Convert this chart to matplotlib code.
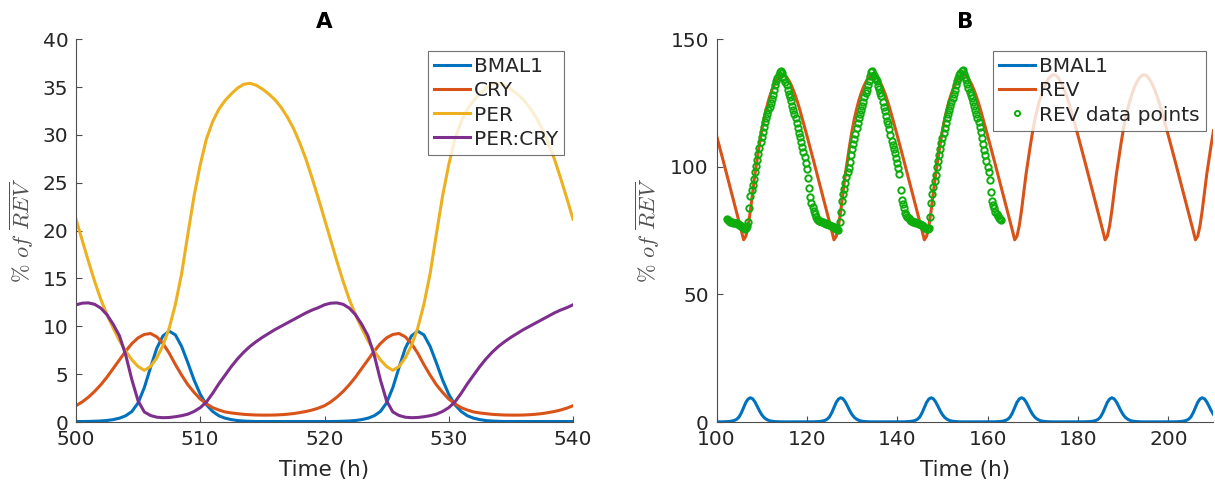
import numpy as np
import matplotlib
matplotlib.use("Agg")
import matplotlib.pyplot as plt

# ---------------- data ----------------
# Panel A: one 20 h period sampled every 0.5 h, t = 500 ... 519.5 (the model output repeats)
bmal1_period = [0.05, 0.05, 0.06, 0.08, 0.11, 0.16, 0.25, 0.4, 0.65, 1.1,
                2.0, 3.6, 5.7, 7.7, 9.0, 9.5, 9.1, 7.9, 6.2, 4.4,
                2.9, 1.8, 1.1, 0.65, 0.4, 0.25, 0.15, 0.1, 0.07, 0.05,
                0.05, 0.05, 0.05, 0.05, 0.05, 0.05, 0.05, 0.05, 0.05, 0.05]
cry_period = [1.7, 2.1, 2.6, 3.2, 3.9, 4.7, 5.6, 6.5, 7.4, 8.2,
              8.8, 9.15, 9.25, 8.9, 8.2, 7.2, 6.0, 4.9, 3.9, 3.1,
              2.4, 1.9, 1.5, 1.25, 1.05, 0.95, 0.87, 0.8, 0.76, 0.73,
              0.72, 0.72, 0.73, 0.76, 0.81, 0.88, 0.98, 1.1, 1.25, 1.45]
per_period = [21.2, 19.0, 16.8, 14.7, 12.8, 11.2, 9.8, 8.5, 7.4, 6.5,
              5.8, 5.4, 5.8, 6.7, 8.0, 9.8, 12.3, 15.5, 19.6, 23.6,
              26.9, 29.6, 31.4, 32.7, 33.6, 34.3, 34.9, 35.3, 35.4, 35.2,
              34.8, 34.3, 33.7, 32.9, 31.9, 30.7, 29.2, 27.5, 25.5, 23.4]
percry_period = [12.25, 12.42, 12.45, 12.3, 11.9, 11.2, 10.2, 9.0, 7.0, 4.4,
                 2.2, 1.05, 0.68, 0.5, 0.45, 0.47, 0.55, 0.66, 0.82, 1.1,
                 1.5, 2.1, 3.0, 4.0, 4.9, 5.8, 6.6, 7.3, 7.9, 8.4,
                 8.85, 9.25, 9.65, 10.0, 10.35, 10.7, 11.05, 11.4, 11.7, 11.95]
# Panel B: REV model, one 20 h period, t = 100 ... 119.5 (BMAL1 shares the period above)
rev_period = [112.3, 109.0, 105.7, 102.3, 98.9, 95.5, 92.1, 88.7, 85.3, 81.9,
              78.5, 75.0, 71.4, 72.8, 76.8, 82.8, 90.0, 97.0, 103.0, 108.8,
              114.2, 118.8, 122.6, 126.0, 128.8, 131.2, 133.1, 134.6, 135.6, 136.1,
              136.0, 135.2, 133.9, 132.2, 130.1, 127.7, 125.0, 122.0, 118.8, 115.6]
# REV data points, every 0.25 h from t = 102.25 to 163.0
rev_data = [
    # 102.25 - 122.0
    79.5, 79.2, 78.8, 78.5, 78.4, 78.3, 78.1, 78.0, 78.0, 77.9,
    77.6, 77.4, 77.2, 77.0, 76.5, 76.0, 75.8, 76.2, 77.0, 78.5,
    84.0, 88.5, 90.8, 93.0, 95.3, 97.8, 100.3, 102.6, 105.0, 107.4,
    109.7, 111.7, 113.7, 115.6, 117.4, 119.0, 120.6, 122.1, 123.6, 125.1,
    126.6, 128.3, 130.1, 132.0, 133.7, 134.8, 135.9, 137.1, 137.6, 136.6,
    135.4, 134.4, 133.4, 131.9, 130.2, 128.6, 127.3, 125.8, 124.0, 122.4,
    120.7, 119.2, 117.2, 115.2, 113.4, 111.8, 109.6, 107.6, 106.0, 104.0,
    101.6, 99.0, 95.8, 91.8, 88.2, 86.0, 84.3, 82.8, 81.4, 80.4,
    # 122.25 - 142.0
    79.7, 79.2, 78.9, 78.6, 78.4, 78.2, 78.0, 77.9, 77.8, 77.7,
    77.5, 77.2, 77.0, 76.8, 76.6, 76.4, 76.1, 75.8, 75.5, 75.4,
    78.5, 82.5, 86.5, 89.2, 91.5, 93.8, 96.2, 98.0, 99.5, 102.0,
    104.8, 107.0, 108.8, 110.8, 113.0, 115.3, 117.2, 119.0, 120.8, 122.4,
    124.0, 125.6, 127.3, 128.8, 130.3, 132.0, 133.8, 135.5, 137.0, 137.5,
    136.0, 135.0, 134.3, 133.5, 131.8, 130.4, 128.8, 127.6, 125.6, 123.6,
    121.8, 120.0, 117.9, 116.7, 114.8, 112.5, 110.2, 108.4, 107.0, 105.6,
    103.6, 101.5, 99.5, 97.4, 91.0, 87.0, 85.3, 83.8, 82.0, 81.2,
    # 142.25 - 163.0
    80.3, 79.8, 79.2, 78.9, 78.6, 78.5, 78.3, 78.2, 78.0, 77.9,
    77.8, 77.5, 77.3, 77.1, 76.8, 76.4, 76.0, 75.7, 75.6, 76.2,
    80.5, 86.0, 89.5, 92.0, 94.5, 97.0, 99.8, 102.3, 104.6, 107.0,
    109.3, 111.4, 113.4, 115.4, 117.3, 119.0, 120.6, 122.2, 123.8, 125.3,
    126.8, 128.4, 130.1, 131.9, 133.6, 134.8, 135.9, 136.8, 137.4, 137.8,
    136.5, 135.2, 134.0, 132.5, 131.0, 129.5, 128.2, 127.0, 125.6, 124.0,
    122.3, 120.6, 119.0, 117.4, 115.5, 113.5, 111.3, 109.0, 106.8, 104.5,
    102.2, 100.0, 98.0, 95.0, 90.0, 86.5, 85.0, 83.8, 82.5, 81.5,
    80.8, 80.0, 79.5, 79.0]

xticksA = [500, 510, 520, 530, 540]
yticksA = [0, 5, 10, 15, 20, 25, 30, 35, 40]
xticksB = [100, 120, 140, 160, 180, 200]
yticksB = [0, 50, 100, 150]
labelsA = ["BMAL1", "CRY", "PER", "PER:CRY"]
labelsB = ["BMAL1", "REV", "REV data points"]

# ---------------- assemble series ----------------
tA = np.arange(500, 540.001, 0.5)
def rep(period, n):
    p = list(period)
    return np.array(p * int(np.ceil(n / len(p))))[:n]
nA = len(tA)
bmal1_A = rep(bmal1_period, nA)
cry_A = rep(cry_period, nA)
per_A = rep(per_period, nA)
percry_A = rep(percry_period, nA)

tB = np.arange(100, 210.001, 0.5)
nB = len(tB)
bmal1_B = rep(bmal1_period, nB)
rev_B = rep(rev_period, nB)
t_data = 102.25 + 0.25 * np.arange(len(rev_data))

# ---------------- style ----------------
C_BLUE, C_ORANGE, C_YELLOW, C_PURPLE = "#0072BD", "#D95319", "#EDB120", "#7E2F8E"
C_GREEN = "#0DAD0D"
TXT = "#262626"
AXC = "#4d4d4d"
plt.rcParams["font.family"] = ["DejaVu Sans"]
plt.rcParams["mathtext.fontset"] = "cm"

W, H = 1215, 484
fig = plt.figure(figsize=(W / 100, H / 100), dpi=100)
axL, axR = 76, 716.5
axW = 497
y0, y1 = 422.0, 39.3
axA = fig.add_axes([axL / W, 1 - y0 / H, axW / W, (y0 - y1) / H])
axB = fig.add_axes([axR / W, 1 - y0 / H, axW / W, (y0 - y1) / H])

LW = 2.2
axA.plot(tA, bmal1_A, color=C_BLUE, lw=LW, label=labelsA[0])
axA.plot(tA, cry_A, color=C_ORANGE, lw=LW, label=labelsA[1])
axA.plot(tA, per_A, color=C_YELLOW, lw=LW, label=labelsA[2])
axA.plot(tA, percry_A, color=C_PURPLE, lw=LW, label=labelsA[3])
axA.set_xlim(500, 540)
axA.set_ylim(0, 40)
axA.set_xticks(xticksA)
axA.set_yticks(yticksA)

axB.plot(tB, bmal1_B, color=C_BLUE, lw=LW, label=labelsB[0])
axB.plot(tB, rev_B, color=C_ORANGE, lw=LW, label=labelsB[1])
axB.plot(t_data, rev_data, linestyle="none", marker="o", ms=4.6, mfc="none",
         mec=C_GREEN, mew=1.4, label=labelsB[2])
axB.set_xlim(100, 210)
axB.set_ylim(0, 150)
axB.set_xticks(xticksB)
axB.set_yticks(yticksB)

for ax in (axA, axB):
    for s in ("top", "right"):
        ax.spines[s].set_visible(False)
    for s in ("left", "bottom"):
        ax.spines[s].set_color(AXC)
        ax.spines[s].set_linewidth(0.8)
    ax.tick_params(direction="in", length=4, width=0.8, color=AXC,
                   labelcolor=TXT, labelsize=14.5)
    ax.tick_params(axis="x", pad=6)
    ax.tick_params(axis="y", pad=5.5)
    ax.set_xlabel("Time (h)", fontsize=15.5, color=TXT, va="center")
    ax.xaxis.set_label_coords(0.5, -(470 - y0) / (y0 - y1))
    ax.set_ylabel(r"$\%\ of\ \overline{REV}$", fontsize=16, color="#505050", va="center")

axA.yaxis.set_label_coords((22 - axL) / axW, 0.5)
axB.yaxis.set_label_coords((648 - axR) / axW, 0.5)

fig.text((axL + axW / 2) / W, 1 - 22 / H, "A", ha="center", va="center",
         fontsize=15.5, fontweight="bold", color="black")
fig.text((axR + axW / 2) / W, 1 - 22 / H, "B", ha="center", va="center",
         fontsize=15.5, fontweight="bold", color="black")

legkw = dict(loc="upper left", borderaxespad=0, fontsize=14.5, frameon=True,
             fancybox=False, handlelength=1.75, handletextpad=0.2,
             labelspacing=0.25, borderpad=0.32, labelcolor=TXT)
legA = axA.legend(bbox_to_anchor=(428 / W, 1 - 51 / H), bbox_transform=fig.transFigure, **legkw)
legB = axB.legend(bbox_to_anchor=(993 / W, 1 - 51 / H), bbox_transform=fig.transFigure,
                  markerscale=0.8, **legkw)
for leg in (legA, legB):
    leg.get_frame().set_edgecolor(AXC)
    leg.get_frame().set_linewidth(0.8)

fig.savefig("out.png", dpi=100)
